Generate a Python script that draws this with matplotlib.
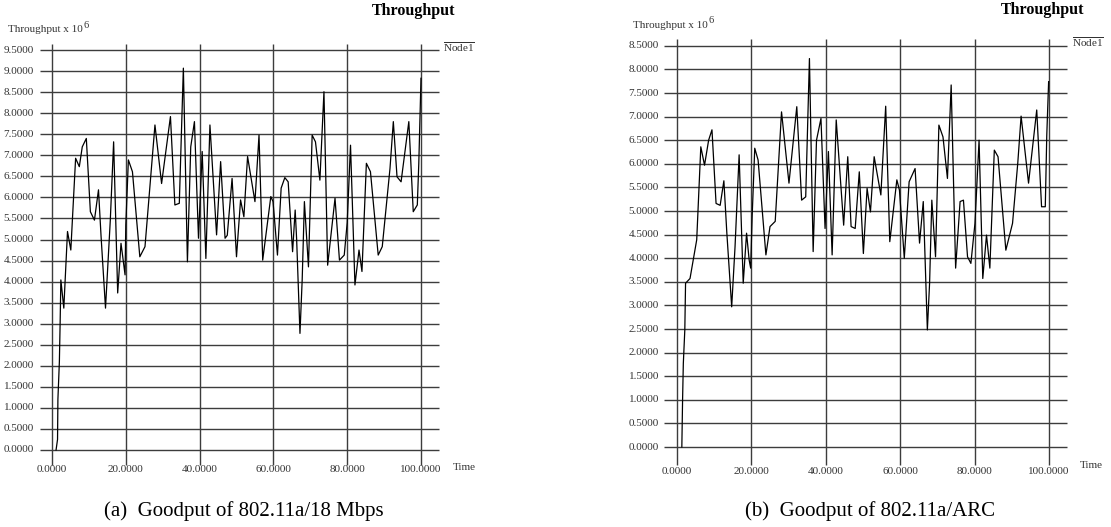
import matplotlib
matplotlib.use("Agg")
import matplotlib.pyplot as plt
import numpy as np

plt.rcParams['font.family'] = ['Liberation Serif', 'DejaVu Serif']
plt.rcParams['mathtext.fontset'] = 'custom'
plt.rcParams['mathtext.rm'] = 'Liberation Serif'
plt.rcParams['mathtext.it'] = 'Liberation Serif:italic'
plt.rcParams['mathtext.bf'] = 'Liberation Serif:bold'

# ---------------- data ----------------
x_ticks = [0, 20, 40, 60, 80, 100]
y_ticks_a = [i * 0.5 for i in range(20)]   # 0.0 .. 9.5
y_ticks_b = [i * 0.5 for i in range(18)]   # 0.0 .. 8.5

t_a = [1.1, 1.5, 1.6, 2.0, 2.2, 2.4, 3.2, 4.2, 5.1, 6.4, 7.4, 8.2, 9.3, 10.4, 11.5,
       12.6, 13.3, 14.5, 15.8, 16.7, 17.8, 18.7, 19.8, 20.0, 20.7, 21.8, 23.8, 25.2,
       27.9, 29.7, 32.1, 33.3, 34.5, 35.6, 36.7, 37.6, 38.6, 39.7, 40.7, 41.7, 42.8,
       44.6, 45.7, 46.9, 47.5, 48.8, 50.0, 51.1, 52.0, 53.0, 55.0, 56.1, 57.1, 59.3,
       59.9, 61.1, 62.1, 63.1, 64.0, 65.2, 65.9, 66.3, 67.2, 67.8, 68.4, 69.5, 70.5,
       71.4, 72.6, 73.7, 74.7, 76.7, 77.9, 79.2, 80.0, 80.9, 82.1, 83.2, 84.0, 85.2,
       86.3, 88.4, 89.5, 91.6, 92.5, 93.5, 94.6, 96.7, 97.9, 99.0, 99.4, 100.0]
v_a = [0.0, 0.25, 1.2, 2.1, 3.0, 4.04, 3.37, 5.19, 4.75, 6.93, 6.73, 7.2, 7.40, 5.66,
       5.46, 6.18, 5.07, 3.37, 5.46, 7.32, 3.73, 4.91, 4.16, 5.34, 6.89, 6.61, 4.59,
       4.83, 7.72, 6.33, 7.92, 5.82, 5.86, 9.07, 4.47, 7.2, 7.8, 5.03, 7.09, 4.55, 7.72,
       5.11, 6.85, 5.03, 5.1, 6.45, 4.59, 5.94, 5.54, 6.97, 5.9, 7.48, 4.51, 6.02, 5.9,
       4.63, 6.22, 6.47, 6.37, 4.71, 5.7, 5.0, 2.77, 4.04, 5.9, 4.35, 7.48, 7.32, 6.41,
       8.51, 4.39, 5.98, 4.51, 4.63, 5.4, 7.24, 3.92, 4.75, 4.24, 6.81, 6.61, 4.63, 4.83,
       6.69, 7.8, 6.49, 6.37, 7.8, 5.66, 5.82, 6.8, 8.83]

t_b = [1.3, 1.5, 1.7, 2.1, 2.3, 3.5, 5.3, 6.4, 7.4, 8.5, 9.4, 10.5, 11.6, 12.6, 13.4,
       14.7, 15.6, 16.7, 17.8, 18.7, 19.4, 19.8, 20.2, 20.9, 21.8, 23.9, 25.0, 26.4,
       28.1, 30.1, 32.2, 33.5, 34.6, 35.6, 36.6, 37.5, 38.7, 39.8, 40.7, 41.7, 42.8,
       44.8, 45.9, 46.8, 47.9, 49.0, 50.1, 51.1, 52.0, 53.0, 54.8, 56.1, 57.2, 59.1,
       59.8, 61.1, 62.4, 64.0, 65.2, 66.2, 67.3, 67.9, 68.5, 69.5, 70.4, 71.5, 72.7,
       73.7, 74.9, 76.1, 77.0, 78.1, 79.0, 80.1, 81.2, 82.2, 83.2, 84.1, 85.3, 86.3,
       88.4, 90.2, 91.6, 92.5, 94.5, 96.7, 98.0, 99.0, 99.4, 99.9]
v_b = [0.0, 1.0, 1.77, 2.48, 3.47, 3.57, 4.39, 6.36, 5.97, 6.5, 6.72, 5.16, 5.12, 5.64,
       4.53, 2.97, 4.24, 6.19, 3.47, 4.53, 3.96, 3.79, 4.88, 6.33, 6.08, 4.07, 4.67,
       4.78, 7.1, 5.59, 7.21, 5.23, 5.3, 8.23, 4.14, 6.5, 6.96, 4.63, 6.26, 4.07, 6.93,
       4.7, 6.15, 4.67, 4.63, 5.83, 4.1, 5.48, 4.98, 6.15, 5.34, 7.22, 4.35, 5.66, 5.44,
       4.0, 5.62, 5.9, 4.32, 5.2, 2.48, 3.47, 5.23, 4.03, 6.82, 6.57, 5.69, 7.67, 3.79,
       5.2, 5.23, 4.03, 3.89, 4.74, 6.5, 3.57, 4.49, 3.79, 6.29, 6.15, 4.17, 4.74, 6.01,
       7.01, 5.59, 7.14, 5.09, 5.09, 6.6, 7.74]

captions = ["(a)  Goodput of 802.11a/18 Mbps", "(b)  Goodput of 802.11a/ARC"]
title_text = "Throughput"
ylabel_base = "Throughput x 10"
ylabel_exp = "6"
xlabel_text = "Time"
legend_text = r"$\overline{\mathrm{Node1}}$"

# ---------------- layout ----------------
W, H = 1111, 527
fig = plt.figure(figsize=(W / 100, H / 100), dpi=100)
fig.patch.set_facecolor('white')

GRID = '#3c3c3c'
TXT = '#333333'


def make_panel(px_left, px_right, x0, sx, y0, sy):
    ax = fig.add_axes([px_left / W, 0, (px_right - px_left) / W, 1])
    ax.set_xlim((px_left - x0) / sx, (px_right - x0) / sx)
    ax.set_ylim((y0 - H) / sy, y0 / sy)
    ax.axis('off')
    px = lambda p: (p - x0) / sx          # pixel x -> data
    py = lambda p: (y0 - p) / sy          # pixel y -> data
    return ax, px, py


panels = [
    dict(bounds=(0, 555), x0=52, sx=3.69, y0=450, sy=42.1, t=t_a, v=v_a, yt=y_ticks_a,
         h_ext=(40, 439), v_ext=(44, 465), ylab_r=34, xlab_y=470, time_xy=(453, 467),
         yl_xy=(8, 30), title_xy=(455, 11), node_xy=(443, 47), cap_xy=(244, 511),
         cap=captions[0]),
    dict(bounds=(555, 1111), x0=677, sx=3.72, y0=447, sy=47.2, t=t_b, v=v_b, yt=y_ticks_b,
         h_ext=(664, 1067), v_ext=(39, 465), ylab_r=659, xlab_y=471, time_xy=(1080, 465),
         yl_xy=(633, 25), title_xy=(1084, 10), node_xy=(1072, 42), cap_xy=(870, 511),
         cap=captions[1]),
]

for p in panels:
    ax, px, py = make_panel(*p['bounds'], p['x0'], p['sx'], p['y0'], p['sy'])
    # grid lines
    ax.hlines(p['yt'], px(p['h_ext'][0]), px(p['h_ext'][1]), color=GRID, lw=1.0, zorder=1)
    ax.vlines(x_ticks, py(p['v_ext'][1]), py(p['v_ext'][0]), color=GRID, lw=1.0, zorder=1)
    # data line
    ax.plot(p['t'], p['v'], color='black', lw=0.9, zorder=3)
    # y tick labels
    for yv in p['yt']:
        ax.text(px(p['ylab_r']), yv, f"{yv:.4f}", ha='right', va='center',
                fontsize=8, color=TXT)
    # x tick labels
    for xv in x_ticks:
        ax.text(xv, py(p['xlab_y']), f"{xv:.4f}", ha='center', va='center',
                fontsize=8, color=TXT)
    ax.text(px(p['time_xy'][0]), py(p['time_xy'][1]), xlabel_text, ha='left',
            va='center', fontsize=8, color=TXT)
    # y-axis caption "Throughput x 10^6" with a full-size exponent
    base = ax.text(px(p['yl_xy'][0]), py(p['yl_xy'][1]), ylabel_base, ha='left',
                   va='center', fontsize=8, color=TXT)
    ax.annotate(ylabel_exp, xy=(1, 1), xycoords=base, xytext=(0.5, 0),
                textcoords='offset points', ha='left', va='center', fontsize=7.5,
                color=TXT)
    ax.text(px(p['title_xy'][0]), py(p['title_xy'][1]), title_text, ha='right',
            va='center', fontsize=11.5, fontweight='bold', color='black')
    ax.text(px(p['node_xy'][0]), py(p['node_xy'][1]), legend_text, ha='left',
            va='center', fontsize=8, color=TXT)
    ax.text(px(p['cap_xy'][0]), py(p['cap_xy'][1]), p['cap'], ha='center',
            va='center', fontsize=15, color='black')

fig.savefig('out.png', dpi=100, facecolor='white')
